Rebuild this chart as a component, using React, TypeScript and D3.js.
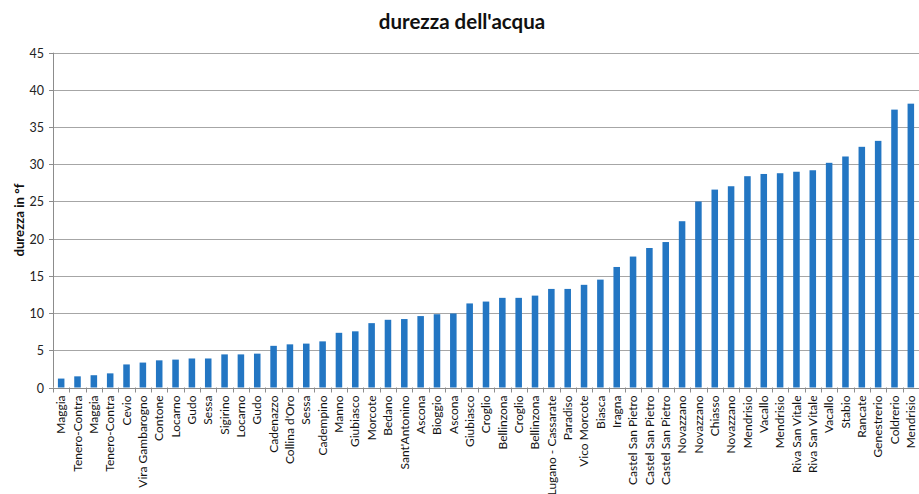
import React, { useEffect, useRef } from 'react';
import * as d3 from 'd3';

const title = "durezza dell'acqua";
const yLabel = 'durezza in °f';

const places = [
  'Maggia', 'Tenero-Contra', 'Maggia', 'Tenero-Contra', 'Cevio', 'Vira Gambarogno',
  'Contone', 'Locarno', 'Gudo', 'Sessa', 'Sigirino', 'Locarno', 'Gudo', 'Cadenazzo',
  "Collina d'Oro", 'Sessa', 'Cadempino', 'Manno', 'Giubiasco', 'Morcote', 'Bedano',
  "Sant'Antonino", 'Ascona', 'Bioggio', 'Ascona', 'Giubiasco', 'Croglio', 'Bellinzona',
  'Croglio', 'Bellinzona', 'Lugano - Cassarate', 'Paradiso', 'Vico Morcote', 'Biasca',
  'Iragna', 'Castel San Pietro', 'Castel San Pietro', 'Castel San Pietro', 'Novazzano',
  'Novazzano', 'Chiasso', 'Novazzano', 'Mendrisio', 'Vacallo', 'Mendrisio',
  'Riva San Vitale', 'Riva San Vitale', 'Vacallo', 'Stabio', 'Rancate', 'Genestrerio',
  'Coldrerio', 'Mendrisio',
];

const hardness = [
  1.2, 1.5, 1.65, 1.9, 3.1, 3.35, 3.65, 3.75, 3.9, 3.9, 4.45, 4.45, 4.55, 5.6,
  5.8, 5.9, 6.2, 7.35, 7.55, 8.65, 9.1, 9.2, 9.6, 9.85, 9.95, 11.3, 11.55, 12.05,
  12.05, 12.35, 13.25, 13.25, 13.8, 14.5, 16.2, 17.6, 18.75, 19.55, 22.35,
  25.0, 26.6, 27.05, 28.4, 28.7, 28.8, 29.0, 29.2, 30.2, 31.05, 32.35, 33.15,
  37.35, 38.15,
];

const yTicks = [0, 5, 10, 15, 20, 25, 30, 35, 40, 45];

const W = 919;
const H = 494;
const FONT = 'Lato, "Open Sans", sans-serif';

export default function App() {
  const svgRef = useRef<SVGSVGElement>(null);

  useEffect(() => {
    if (!svgRef.current) return;
    const svg = d3.select(svgRef.current);
    svg.selectAll('*').remove();

    const x0 = 53;
    const x1 = W;
    const yBase = 387.5;
    const yTop = 52.7;

    const idx = places.map((_, i) => i);
    const x = d3.scaleBand<number>().domain(idx).range([x0, x1]).paddingInner(0.6).paddingOuter(0.3);
    const y = d3.scaleLinear().domain([0, 45]).range([yBase, yTop]);

    svg.append('rect').attr('width', W).attr('height', H).attr('fill', '#fff');

    // gridlines
    svg.append('g')
      .selectAll('line')
      .data(yTicks.filter((t) => t > 0))
      .join('line')
      .attr('x1', x0).attr('x2', x1)
      .attr('y1', (d) => Math.round(y(d)) + 0.5).attr('y2', (d) => Math.round(y(d)) + 0.5)
      .attr('stroke', '#a6a6a6').attr('stroke-width', 1);

    // bars
    svg.append('g')
      .selectAll('rect')
      .data(hardness)
      .join('rect')
      .attr('x', (_, i) => x(i)!)
      .attr('width', x.bandwidth())
      .attr('y', (d) => y(d))
      .attr('height', (d) => yBase - y(d))
      .attr('fill', '#2376c3');

    const axisColor = '#8c8c8c';
    svg.append('line')
      .attr('x1', x0 + 0.5).attr('x2', x0 + 0.5).attr('y1', yTop).attr('y2', yBase)
      .attr('stroke', axisColor);
    svg.append('line')
      .attr('x1', x0).attr('x2', x1).attr('y1', Math.round(yBase) + 0.5).attr('y2', Math.round(yBase) + 0.5)
      .attr('stroke', axisColor);

    // y ticks
    const yg = svg.append('g');
    yTicks.forEach((t) => {
      const yy = Math.round(y(t)) + 0.5;
      yg.append('line').attr('x1', x0 - 4).attr('x2', x0).attr('y1', yy).attr('y2', yy).attr('stroke', axisColor);
      yg.append('text')
        .attr('x', x0 - 9).attr('y', yy)
        .attr('dy', '0.35em')
        .attr('text-anchor', 'end')
        .attr('font-family', FONT)
        .attr('font-size', 12.5)
        .attr('fill', '#222')
        .text(t);
    });

    // x ticks at band boundaries
    const xg = svg.append('g');
    for (let i = 0; i <= places.length; i++) {
      const xx = Math.round(x0 + i * ((x1 - x0) / places.length)) + 0.5;
      xg.append('line').attr('x1', xx).attr('x2', xx).attr('y1', yBase).attr('y2', yBase + 5).attr('stroke', axisColor);
    }

    // x labels
    places.forEach((p, i) => {
      const cx = x(i)! + x.bandwidth() / 2;
      xg.append('text')
        .attr('transform', `translate(${cx},${yBase + 8}) rotate(-90)`)
        .attr('dy', '0.35em')
        .attr('text-anchor', 'end')
        .attr('font-family', FONT)
        .attr('font-size', 12)
        .attr('fill', '#111')
        .text(p);
    });

    // title
    svg.append('text')
      .attr('x', 462).attr('y', 29)
      .attr('text-anchor', 'middle')
      .attr('font-family', FONT)
      .attr('font-weight', 'bold')
      .attr('font-size', 20.5)
      .attr('fill', '#111')
      .text(title);

    // y label
    svg.append('text')
      .attr('transform', `translate(24,${(yTop + yBase) / 2}) rotate(-90)`)
      .attr('text-anchor', 'middle')
      .attr('font-family', FONT)
      .attr('font-weight', 'bold')
      .attr('font-size', 13.2)
      .attr('fill', '#111')
      .text(yLabel);
  }, []);

  return (
    <div style={{ position: 'fixed', left: 0, top: 0 }}>
      <svg ref={svgRef} width={W} height={H} style={{ display: 'block' }} />
    </div>
  );
}
